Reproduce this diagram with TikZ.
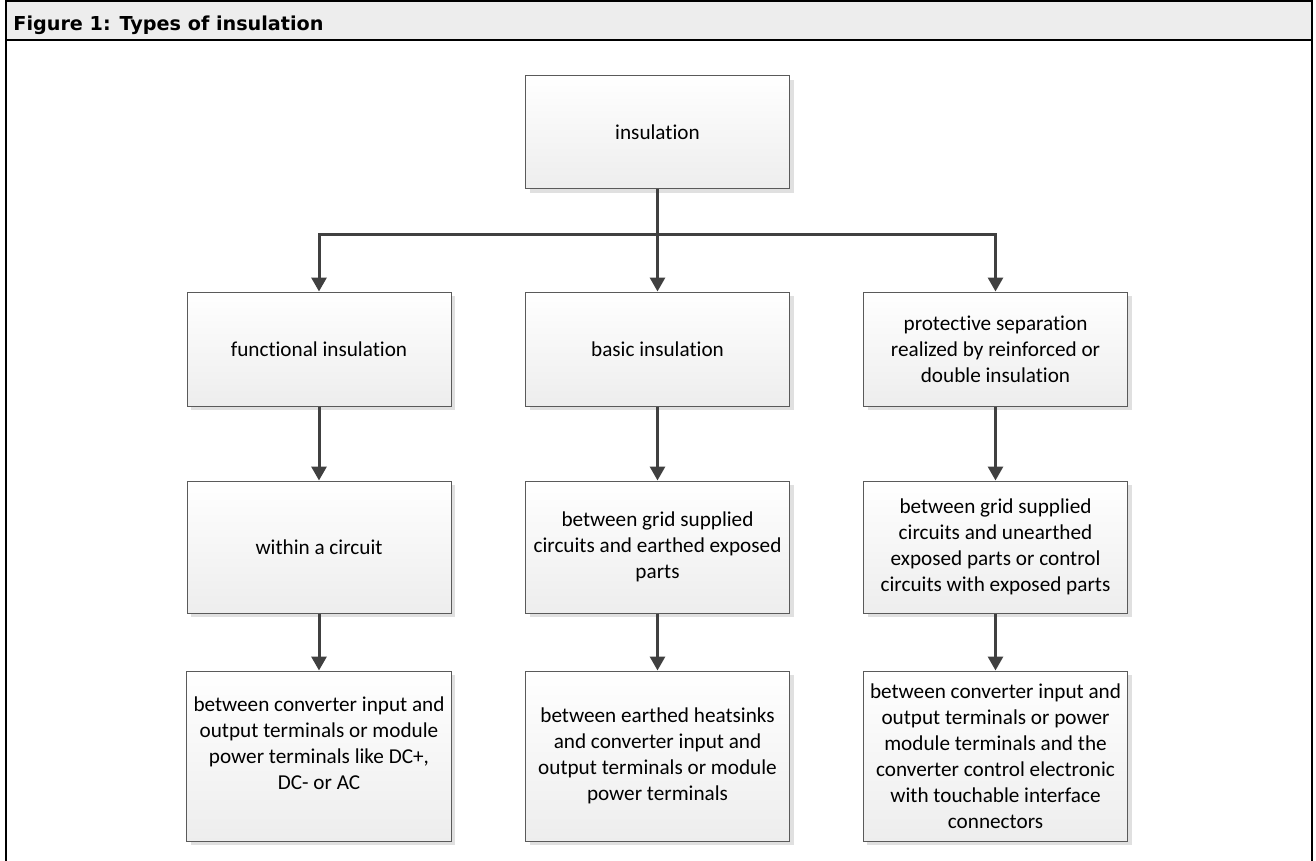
\documentclass[tikz,border=0pt]{standalone}
\usepackage{fontspec}
\setmainfont{Carlito}[Ligatures=NoCommon]
\newfontfamily\titlefont{DejaVu Sans}
\usetikzlibrary{arrows.meta,shadows}
\definecolor{framegray}{HTML}{EDEDED}
\definecolor{linegray}{HTML}{404040}
\definecolor{boxedge}{HTML}{5A5A5A}
\tikzset{
    insbox/.style={rectangle,draw=boxedge,line width=0.5pt,top color=white,bottom color=black!7,
        minimum width=132pt,align=center,font=\fontsize{10.6pt}{13pt}\selectfont,
        drop shadow={shadow xshift=2pt,shadow yshift=-2pt,fill=black!12,opacity=1}},
    link/.style={draw=linegray,line width=1.5pt,-{Triangle[width=7.5pt,length=7pt]}}
}
\begin{document}
\begin{tikzpicture}[x=0.5pt,y=-0.5pt]
    \useasboundingbox (0,0) rectangle (1316,861);
    \fill[framegray] (6,1) rectangle (1312,40);
    \draw[line width=1pt] (6,861) -- (6,1) -- (1312,1) -- (1312,861);
    \draw[line width=1pt] (6,40) -- (1312,40);
    \node[anchor=base west,inner sep=0pt,font=\titlefont\bfseries\fontsize{9.6pt}{11pt}\selectfont] (title) at (13,31) {Figure 1: Types of insulation};

    \node[insbox,minimum height=56.5pt] (ins) at (657.5,132.5) {insulation};

    \node[insbox,minimum height=57pt] (func) at (319,349) {functional insulation};
    \node[insbox,minimum height=57pt] (basic) at (657.5,349) {basic insulation};
    \node[insbox,minimum height=57pt] (prot) at (995.5,349) {protective separation\\realized by reinforced or\\double insulation};

    \node[insbox,minimum height=66pt] (within) at (319,547) {within a circuit};
    \node[insbox,minimum height=66pt] (earthed) at (657.5,547) {between grid supplied\\circuits and earthed exposed\\parts};
    \node[insbox,minimum height=66pt] (unearthed) at (995.5,547) {between grid supplied\\circuits and unearthed\\exposed parts or control\\circuits with exposed parts};

    \node[insbox,minimum height=85pt] (termA) at (319,756) {between converter input and\\output terminals or module\\power terminals like DC+,\\DC- or AC\\ \mbox{}};
    \node[insbox,minimum height=85pt] (heat) at (657.5,756) {between earthed heatsinks\\and converter input and\\output terminals or module\\power terminals};
    \node[insbox,minimum height=85pt] (termB) at (995.5,756) {between converter input and\\output terminals or power\\module terminals and the\\converter control electronic\\with touchable interface\\connectors};

    \coordinate (bus) at (657.5,235);
    \draw[link] (ins) -- (basic);
    \draw[link] (bus) -| (func);
    \draw[link] (bus) -| (prot);
    \foreach \a/\b in {func/within,basic/earthed,prot/unearthed,within/termA,earthed/heat,unearthed/termB}
        {\draw[link] (\a) -- (\b);
        }
\end{tikzpicture}
\end{document}
